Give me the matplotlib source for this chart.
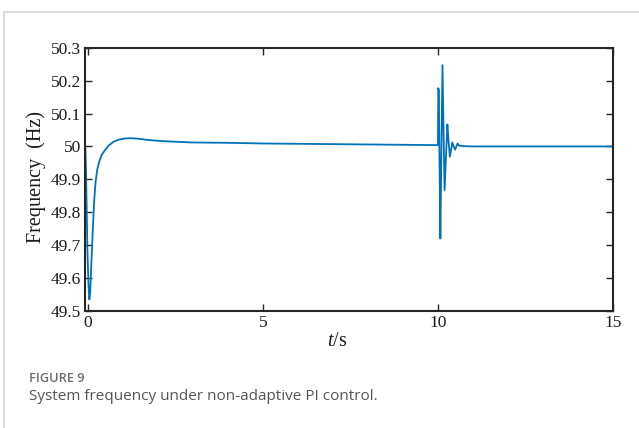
import matplotlib
matplotlib.use("Agg")
import matplotlib.pyplot as plt
from matplotlib.lines import Line2D

plt.rcParams["mathtext.fontset"] = "custom"
plt.rcParams["mathtext.it"] = "Liberation Serif:italic"
plt.rcParams["mathtext.rm"] = "Liberation Serif"

# ---- data ----
t_start = [-0.07, -0.05, -0.03, -0.01, 0.02, 0.045, 0.07, 0.10, 0.14, 0.18, 0.22,
           0.27, 0.33, 0.40, 0.50, 0.60, 0.73, 0.90, 1.05, 1.20, 1.40, 1.70, 2.00,
           2.35, 3.0, 4.0, 5.0, 6.0, 7.0, 8.0, 9.0, 9.99]
f_start = [50.0, 49.92, 49.80, 49.68, 49.58, 49.535, 49.56, 49.64, 49.74, 49.83, 49.89,
           49.93, 49.955, 49.975, 49.99, 50.003, 50.014, 50.021, 50.024, 50.025, 50.024,
           50.02, 50.017, 50.015, 50.012, 50.011, 50.009, 50.008, 50.007, 50.006,
           50.005, 50.004]
t_osc = [10.0, 10.01, 10.025, 10.045, 10.07, 10.10, 10.13, 10.16, 10.19, 10.23, 10.27,
         10.30, 10.34, 10.375, 10.41, 10.45, 10.49, 10.525, 10.56, 10.60, 10.70,
         11.0, 12.0, 13.0, 14.0, 15.0]
f_osc = [50.004, 50.177, 50.17, 49.95, 49.72, 50.0, 50.247, 50.05, 49.867, 49.97, 50.067,
         50.02, 49.969, 49.99, 50.012, 50.0, 49.99, 50.0, 50.009, 50.003, 50.001,
         50.0, 50.0, 50.0, 50.0, 50.0]
x_ticks = [0, 5, 10, 15]
y_ticks = [49.5, 49.6, 49.7, 49.8, 49.9, 50.0, 50.1, 50.2, 50.3]
y_ticklabels = ["49.5", "49.6", "49.7", "49.8", "49.9", "50", "50.1", "50.2", "50.3"]

t = t_start + t_osc
f = f_start + f_osc

fig = plt.figure(figsize=(6.39, 4.28), dpi=100)
W, H = 639, 428

# light frame of the figure panel
fig.add_artist(Line2D([4 / W, 1], [1 - 12 / H, 1 - 12 / H], color="#d6d6d6", lw=1.2,
                      transform=fig.transFigure))
fig.add_artist(Line2D([4 / W, 4 / W], [0, 1 - 12 / H], color="#d6d6d6", lw=1.2,
                      transform=fig.transFigure))

left, right, top, bottom = 85, 613, 47.7, 311
ax = fig.add_axes([left / W, 1 - bottom / H, (right - left) / W, (bottom - top) / H])
ax.plot(t, f, color="#0072BD", lw=1.3)

ax.set_xlim(-0.08, 15)
ax.set_ylim(49.5, 50.3)
ax.set_xticks(x_ticks)
ax.set_yticks(y_ticks)
ax.set_yticklabels(y_ticklabels)

serif = "Liberation Serif"
for lab in ax.get_xticklabels() + ax.get_yticklabels():
    lab.set_fontfamily(serif)
    lab.set_fontsize(12.5)
    lab.set_color("#1a1a1a")
ax.tick_params(direction="in", length=5, width=1.0, top=True, right=True,
               color="#262626", pad=3)
for s in ax.spines.values():
    s.set_linewidth(1.5)
    s.set_color("#262626")

fig.text(36 / W, 1 - 177 / H, "Frequency  (Hz)", rotation=90, ha="center", va="center",
         family=serif, fontsize=14.5, color="#1a1a1a")
fig.text(337 / W, 1 - 341 / H, r"$t$/s", ha="center", va="center",
         family=serif, fontsize=14.5, color="#1a1a1a")

fig.text(29 / W, 1 - 378 / H, "FIGURE 9", ha="left", va="center",
         family="Open Sans", fontsize=9.2, color="#6b6b6b", fontweight="semibold")
fig.text(29 / W, 1 - 397 / H, "System frequency under non-adaptive PI control.",
         ha="left", va="center", family="Open Sans", fontsize=11, color="#555555")

fig.savefig("out.png", dpi=100)
